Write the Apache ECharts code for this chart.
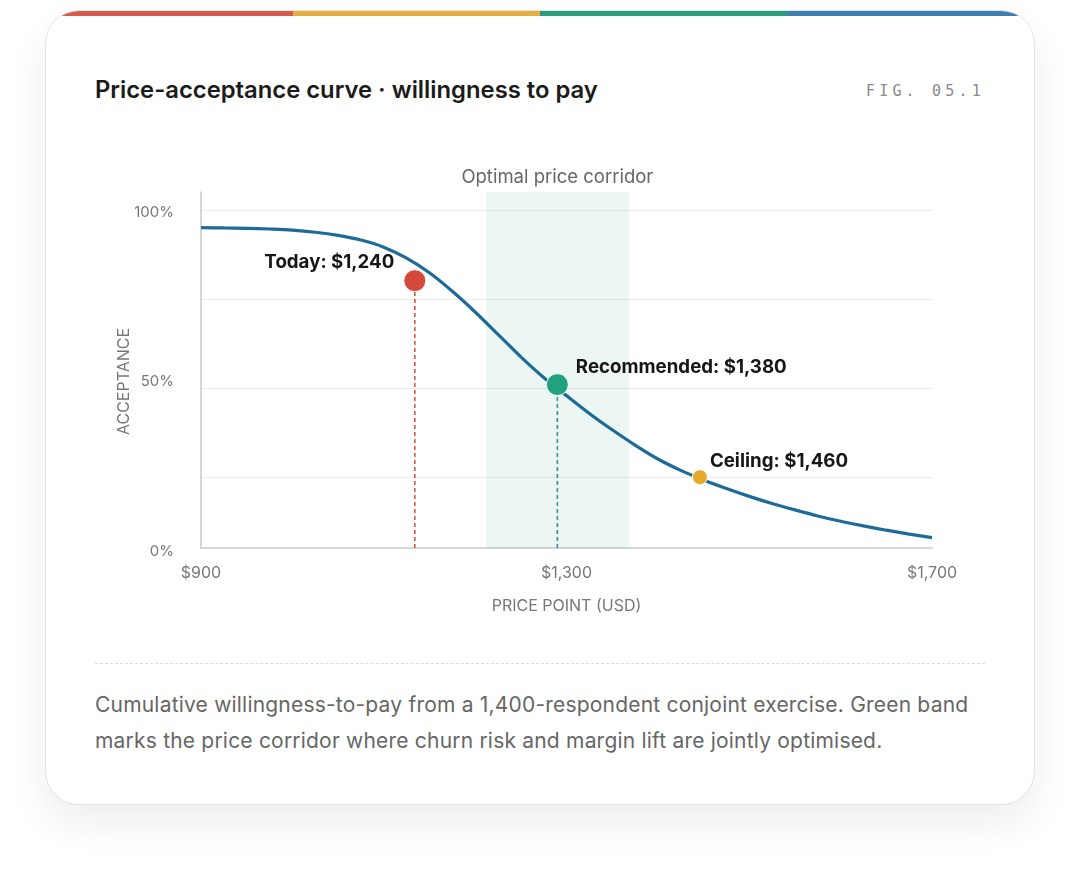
<!DOCTYPE html>
<html lang="en">
<head>
<meta charset="UTF-8">
<title>Price-acceptance curve</title>
<script src="https://cdn.jsdelivr.net/npm/echarts@6/dist/echarts.min.js"></script>
<style>
  body { margin: 0; background: #fff; font-family: Inter, "Noto Sans", sans-serif; }
  .card {
    position: absolute; left: 45px; top: 10px; width: 988px; height: 793px;
    border: 1px solid #e4e4e4; border-radius: 34px; overflow: hidden; background: #fff;
    box-shadow: 0 18px 40px rgba(0, 0, 0, 0.07);
  }
  .stripe { position: absolute; left: 0; top: 0; right: 0; height: 5px; display: flex; }
  .stripe span { flex: 1; }
  .title { position: absolute; left: 49px; top: 64px; margin: 0; font-size: 23.8px; line-height: 30px; font-weight: 600; color: #1b1b1b; }
  .fig { position: absolute; right: 49px; top: 70px; font-family: "DejaVu Sans Mono", monospace; font-size: 15px; line-height: 20px; letter-spacing: 4.2px; color: #8a8a8a; }
  #main { position: absolute; left: 0; top: 129px; width: 988px; height: 490px; }
  .sep { position: absolute; left: 49px; right: 49px; top: 652px; border-top: 1px dashed #dcdcdc; }
  .caption { position: absolute; left: 49px; top: 676px; width: 900px; font-size: 21px; letter-spacing: 0.2px; line-height: 36px; color: #666; }
</style>
</head>
<body>
<div class="card">
  <div class="stripe">
    <span style="background:#d65b4d"></span><span style="background:#e6b040"></span><span style="background:#2a9c7e"></span><span style="background:#3c7fb0"></span>
  </div>
  <h1 class="title">Price-acceptance curve · willingness to pay</h1>
  <div class="fig">FIG. 05.1</div>
  <div id="main"></div>
  <div class="sep"></div>
  <div class="caption">Cumulative willingness-to-pay from a 1,400-respondent conjoint exercise. Green band<br>marks the price corridor where churn risk and margin lift are jointly optimised.</div>
</div>
<script>
  // acceptance curve (every $25)
  var priceX = [900, 925, 950, 975, 1000, 1025, 1050, 1075, 1100, 1125, 1150, 1175, 1200, 1225, 1250, 1275, 1300,
                1325, 1350, 1375, 1400, 1425, 1450, 1475, 1500, 1525, 1550, 1575, 1600, 1625, 1650, 1675, 1700];
  var acceptY = [95.0, 94.9, 94.8, 94.6, 94.3, 93.7, 92.8, 91.5, 89.5, 86.4, 82.3, 77.1, 71.3, 65.0, 58.7, 52.9, 47.8,
                 42.8, 38.2, 33.9, 30.0, 26.8, 24.1, 21.7, 19.5, 17.5, 15.7, 14.0, 12.5, 11.2, 10.0, 8.9, 7.9];

  // marked points
  var markNames = ['Today: $1,240', 'Recommended: $1,380', 'Ceiling: $1,460'];
  var markX = [1134, 1290, 1446];
  var markY = [80.1, 50.9, 24.9];
  var markColors = ['#d5493b', '#23a07e', '#e5a92b'];
  var dropColors = ['#d9534a', '#3a9190', null];

  var band = [1212, 1368];
  var bandLabel = 'Optimal price corridor';
  var xTicks = [900, 1300, 1700];
  var gridValues = [25, 50, 75, 100];
  var yTickLabels = [0, 50, 100];

  var myChart = echarts.init(document.getElementById('main'));

  var labelCfg = [
    { position: 'left', offset: [-4, -18] },
    { position: 'right', offset: [2, -17] },
    { position: 'right', offset: [-3, -16] }
  ];

  var dots = markX.map(function (x, i) {
    return {
      value: [x, markY[i]],
      symbolSize: i === 2 ? 15 : 22,
      itemStyle: { color: markColors[i] },
      label: Object.assign({ show: true, formatter: markNames[i] }, labelCfg[i])
    };
  });

  var drops = [];
  markX.forEach(function (x, i) {
    if (!dropColors[i]) return;
    drops.push({
      type: 'line', xAxisIndex: 0, yAxisIndex: 0, symbol: 'none', silent: true, z: 3,
      data: [[x, 5], [x, markY[i]]],
      lineStyle: { color: dropColors[i], width: 1.6, type: [4, 3] }
    });
  });

  var option = {
    animation: false,
    textStyle: { fontFamily: 'Inter' },
    grid: [
      { left: 155, right: 102, top: 52, bottom: 82 },
      { left: 155, right: 102, top: 72, bottom: 79 }
    ],
    xAxis: [
      {
        gridIndex: 0, type: 'value', min: xTicks[0], max: xTicks[xTicks.length - 1], interval: 400,
        name: 'PRICE POINT (USD)', nameLocation: 'middle', nameGap: 50,
        nameTextStyle: { color: '#777', fontSize: 16 },
        axisLine: { lineStyle: { color: '#c9c9c9', width: 1.5 } },
        axisTick: { show: false },
        splitLine: { show: false },
        axisLabel: { color: '#777', fontSize: 16, margin: 17, formatter: function (v) { return '$' + v.toLocaleString('en-US'); } }
      },
      { gridIndex: 1, type: 'value', min: 0, max: 1, show: false }
    ],
    yAxis: [
      {
        gridIndex: 0, type: 'value', min: 5, max: 105,
        axisLine: { show: true, lineStyle: { color: '#c9c9c9', width: 1.5 } },
        axisTick: { show: false, customValues: gridValues },
        axisLabel: { show: false },
        splitLine: { lineStyle: { color: '#ebebeb', width: 1.2 } }
      },
      {
        gridIndex: 1, type: 'value', min: 0, max: 100, interval: 50,
        name: 'ACCEPTANCE', nameLocation: 'middle', nameGap: 69, nameMoveOverlap: false,
        nameTextStyle: { color: '#777', fontSize: 16 },
        axisLine: { show: false }, axisTick: { show: false }, splitLine: { show: false },
        axisLabel: { color: '#777', fontSize: 15, margin: 27, customValues: yTickLabels, formatter: '{value}%' }
      }
    ],
    series: [
      {
        type: 'line', xAxisIndex: 0, yAxisIndex: 0, z: 4,
        data: priceX.map(function (x, i) { return [x, acceptY[i]]; }),
        smooth: 0.3, symbol: 'none',
        lineStyle: { color: '#1d6b9a', width: 3.2 },
        markArea: {
          silent: true,
          itemStyle: { color: 'rgba(42,157,124,0.09)' },
          label: { show: true, position: 'top', distance: 5, color: '#666', fontSize: 18.5 },
          data: [[{ xAxis: band[0], name: bandLabel }, { xAxis: band[1] }]]
        }
      }
    ].concat(drops).concat([
      {
        type: 'scatter', xAxisIndex: 0, yAxisIndex: 0, z: 6,
        data: dots,
        itemStyle: { borderColor: '#fff', borderWidth: 1, opacity: 1 },
        label: { color: '#161616', fontSize: 18.7, fontWeight: 'bold' }
      }
    ])
  };
  myChart.setOption(option);
</script>
</body>
</html>
